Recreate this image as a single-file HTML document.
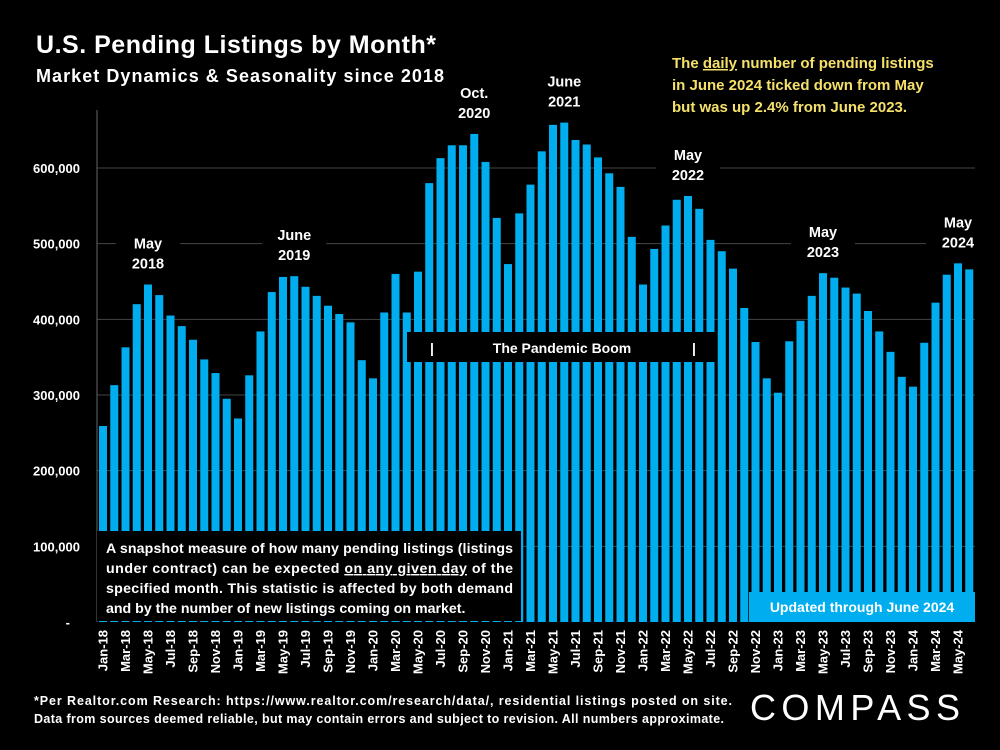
<!DOCTYPE html>
<html><head><meta charset="utf-8"><style>
body{margin:0;background:#000;}
svg{display:block;font-family:"Liberation Sans",sans-serif;}
</style></head><body>
<svg id="chart" width="1000" height="750" viewBox="0 0 1000 750" xmlns="http://www.w3.org/2000/svg">
<rect width="1000" height="750" fill="#000"/>
<text x="36" y="53" fill="#fff" font-size="25" font-weight="bold" textLength="400">U.S. Pending Listings by Month*</text>
<text x="36" y="82" fill="#fff" font-size="18" font-weight="bold" textLength="408">Market Dynamics &amp; Seasonality since 2018</text>
<g fill="#f5e06a" font-size="15" font-weight="bold">
<text x="672" y="68">The <tspan text-decoration="underline">daily</tspan> number of pending listings</text>
<text x="672" y="90">in June 2024 ticked down from May</text>
<text x="672" y="112">but was up 2.4% from June 2023.</text>
</g>
<g id="grid"></g>
<line x1="97" y1="110" x2="97" y2="622" stroke="#666" stroke-width="1"/>
<g id="bars"></g>
<g id="ylabels"></g>
<g id="xlabels"></g>
<g id="annots"></g>
<g>
<rect x="407" y="332" width="309" height="30" fill="#000"/>
<text x="430" y="353" fill="#fff" font-size="14" font-weight="bold">|</text>
<text x="562" y="353" fill="#fff" font-size="14" font-weight="bold" text-anchor="middle">The Pandemic Boom</text>
<text x="692" y="353" fill="#fff" font-size="14" font-weight="bold">|</text>
</g>
<g>
<rect x="97" y="531" width="424" height="90" fill="#000"/>
<g fill="#fff" font-size="14.2" font-weight="bold">
<text x="106" y="553" textLength="407">A snapshot measure of how many pending listings (listings</text>
<text x="106" y="573" textLength="407">under contract) can be expected <tspan text-decoration="underline">on any given day</tspan> of the</text>
<text x="106" y="593" textLength="407">specified month.  This statistic is affected by both demand</text>
<text x="106" y="613">and by the number of new listings coming on market.</text>
</g></g>
<g>
<rect x="749" y="592" width="226" height="30" fill="#00aeef"/>
<text x="862" y="612" fill="#fff" font-size="14" font-weight="bold" text-anchor="middle">Updated through June 2024</text>
</g>
<g fill="#fff" font-size="12.5" font-weight="bold">
<text x="34" y="705" textLength="698">*Per Realtor.com Research:  https://www.realtor.com/research/data/, residential listings posted on site.</text>
<text x="34" y="723" textLength="690">Data from sources deemed reliable, but may contain errors and subject to revision. All numbers approximate.</text>
</g>
<text x="750" y="720" fill="#fff" font-size="36" textLength="210" font-weight="normal">COMPASS</text>
</svg>
<script>
const months=["Jan","Feb","Mar","Apr","May","Jun","Jul","Aug","Sep","Oct","Nov","Dec"];
const categories=[];
for(let y=18;y<=24;y++)for(let m=0;m<12;m++){if(y===24&&m>5)break;categories.push(months[m]+"-"+y);}
const values=[259,313,363,420,446,432,405,391,373,347,329,295,
269,326,384,436,456,457,443,431,418,407,396,346,
322,409,460,409,463,580,613,630,630,645,608,534,
473,540,578,622,657,660,637,631,614,593,575,509,
446,493,524,558,563,546,505,490,467,415,370,322,
303,371,398,431,461,455,442,434,411,384,357,324,
311,369,422,459,474,466];
const yTicks=[0,100,200,300,400,500,600];
const yTickLabels=["-","100,000","200,000","300,000","400,000","500,000","600,000"];
const annotIdx=[4,17,33,41,52,64,76];
const annotLines=[["May","2018"],["June","2019"],["Oct.","2020"],["June","2021"],["May","2022"],["May","2023"],["May","2024"]];
const NS="http://www.w3.org/2000/svg";
const x0=103,step=11.25,bw=8,yBase=622,pxPer=0.7567;
const xs=i=>x0+i*step;
const ys=v=>yBase-v*pxPer;
function mk(t,a,p){const e=document.createElementNS(NS,t);for(const k in a)e.setAttribute(k,a[k]);p.appendChild(e);return e;}
const grid=document.getElementById('grid'),bars=document.getElementById('bars'),yl=document.getElementById('ylabels'),xl=document.getElementById('xlabels'),an=document.getElementById('annots');
yTicks.forEach((t,i)=>{
 if(t>0){const g=mk('line',{x1:97,x2:975,y1:ys(t),y2:ys(t),stroke:'#444','stroke-width':1},grid);
 
 }
 const tx=mk('text',{x:t===0?70:80,y:ys(t)+5,fill:'#fff','font-size':13,'font-weight':'bold','text-anchor':'end'},yl);
 tx.textContent=yTickLabels[i];
 
 
});
values.forEach((v,i)=>{
 const r=mk('rect',{x:xs(i)-bw/2,y:ys(v),width:bw,height:v*pxPer,fill:'#00aeef'},bars);
 
 
});
categories.forEach((c,i)=>{
 if(i%2)return;
 const t=mk('text',{x:0,y:0,fill:'#fff','font-size':13,'font-weight':'bold','text-anchor':'end',transform:`translate(${xs(i)+4.5},630) rotate(-90)`},xl);
 t.textContent=c;
 
 
});
annotIdx.forEach((idx,k)=>{
 const top=ys(values[idx]);
 const bg=mk('rect',{x:xs(idx)-32,y:top-54,width:64,height:44,fill:'#000'},an);
 
 
 annotLines[k].forEach((s,j)=>{
  const t=mk('text',{x:xs(idx),y:top-36+j*20,fill:'#fff','font-size':14.5,'font-weight':'bold','text-anchor':'middle'},an);
  t.textContent=s;
  
  
 });
});
</script>
</body></html>
